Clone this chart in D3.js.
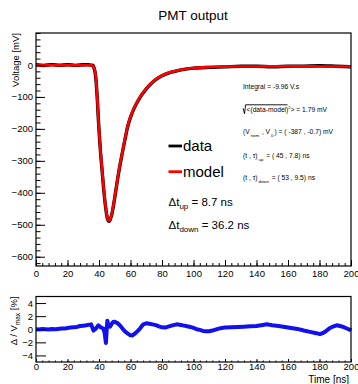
<!DOCTYPE html>
<html>
<head>
<meta charset="utf-8">
<script src="https://cdn.jsdelivr.net/npm/d3@7"></script>
<style>
  body { margin: 0; background: #fff; }
  svg text { font-family: "Liberation Sans", Arial, sans-serif; fill: #000; }
</style>
</head>
<body>
<div id="container"></div>
<script>
// pulse: time [ns] and voltage [mV]
let times = [0, 5, 10, 15, 20, 25, 30, 33, 35, 36, 36.5, 37, 37.5, 38, 38.5, 39, 39.5, 40, 40.5, 41, 42, 43, 44, 45, 46, 46.5, 47, 48, 49, 50, 51, 52, 53, 54, 55, 56, 57, 58, 60, 62, 64, 66, 68, 70, 73, 76, 80, 85, 90, 95, 100, 110, 120, 130, 140, 150, 160, 170, 180, 190, 200];
let modelVals = [-0.7, -0.7, -0.7, -0.7, -0.7, -0.7, -0.8, -0.9, -1, -2, -5, -10, -20, -40, -70, -110, -160, -200, -238, -272, -330, -388, -435, -470, -486, -487, -484, -468, -443, -413, -381, -349, -320, -294, -268, -243, -219, -195, -162, -137, -117, -100, -86, -74, -58, -45, -33, -23, -17, -12.5, -9.5, -6.5, -5.2, -4.8, -4.6, -4.5, -4.5, -4.5, -4.6, -4.7, -4.8];
let dataVals = [0.5, -1.5, 1, -1, 0.8, -1.2, 0.5, 1.2, -1, -0.5, -4, -12, -23, -43, -74, -113, -162, -203, -240, -275, -332, -390, -437, -472, -488, -489, -485, -470, -445, -415, -383, -351, -322, -296, -270, -245, -221, -197, -164, -139, -119, -102, -88, -75, -59, -46, -34, -24, -18, -13, -10, -7.5, -6, -4, -3.8, -5.5, -4, -3.5, -2.5, -3.8, -5.5];

// residual: time [ns] and delta / Vmax [%]
let resTimes = [0, 2, 4, 6, 8, 10, 12, 14, 16, 18, 20, 22, 24, 26, 28, 30, 32, 34, 35, 36.5, 38, 39.6, 41, 42.8, 43.6, 44.4, 44.8, 45.3, 45.9, 47, 48, 49, 50, 52, 54, 55.4, 57, 59.7, 61, 62.9, 64, 66, 68.1, 70, 72, 74, 76.6, 78, 80, 82, 84, 86, 89.3, 92, 94, 96, 98, 100, 102, 104, 106, 108, 110, 112, 114, 116, 118, 120, 124, 128, 132, 136, 140, 144, 146.5, 148, 150, 154, 158, 162, 166, 170, 174, 178, 180.3, 182, 184, 186.7, 188, 190.9, 193, 195, 197, 199.4, 200];
let resVals = [0, -0.05, 0.05, 0, -0.05, 0.05, 0, 0.05, 0.1, 0.1, 0.2, 0.25, 0.3, 0.35, 0.5, 0.55, 0.6, 0.7, 0.75, -0.2, 0.1, 0.6, 0.3, 0.1, -0.6, -2.1, -0.4, 1.3, 0.6, 0.4, 0.8, 1.1, 1.15, 0.9, 0.4, -0.05, -0.45, -0.9, -0.95, -0.65, -0.4, 0.1, 0.75, 0.9, 0.85, 0.75, 0.6, 0.45, 0.3, 0.25, 0.4, 0.55, 0.75, 0.65, 0.55, 0.45, 0.35, 0.2, 0.0, -0.1, -0.25, -0.3, -0.3, -0.2, -0.05, 0.1, 0.2, 0.25, 0.3, 0.35, 0.4, 0.45, 0.5, 0.65, 0.75, 0.7, 0.6, 0.5, 0.35, 0.2, 0.05, -0.2, -0.4, -0.6, -0.75, -0.6, -0.3, 0.2, 0.35, 0.6, 0.5, 0.35, 0.15, -0.1, -0.2];

let xTicks = [0, 20, 40, 60, 80, 100, 120, 140, 160, 180, 200];
let yTicks = [-600, -500, -400, -300, -200, -100, 0];
let resTicks = [-4, -2, 0, 2, 4];

let stats = [
  {main: "Integral = -9.96 V.s"},
  {sqrt: true},
  {parts: [["(V", 0], ["nom", 1], [" , V", 0], ["0", 1], [") = ( -387 , -0.7) mV", 0]]},
  {parts: [["(t , \u03c4)", 0], ["up", 1], [" = ( 45 , 7.8) ns", 0]]},
  {parts: [["(t , \u03c4)", 0], ["down", 1], [" = ( 53 , 9.5) ns", 0]]}
];

let w = 358;
let h = 384;
let fx0 = 36, fx1 = 351;
let top0 = 33, top1 = 266;
let bot0 = 296.5, bot1 = 362;

let svg = d3.select("#container")
  .append("svg")
  .attr("width", w)
  .attr("height", h)
  .style("background-color", "#fff");

let xScale = d3.scaleLinear().domain([0, 200]).range([fx0, fx1]);
let yScale = d3.scaleLinear().domain([-629, 100]).range([top1, top0]);
let rScale = d3.scaleLinear().domain([-5, 5]).range([bot1, bot0]);

// title
svg.append("text")
  .attr("x", 193).attr("y", 19.5)
  .attr("text-anchor", "middle")
  .attr("font-size", "13.5px")
  .text("PMT output");

// ---------- top panel ----------
let pulseModel = times.map((t, i) => [t, modelVals[i]]);
let pulseData = times.map((t, i) => [t, dataVals[i]]);

let line = d3.line()
  .x(d => xScale(d[0]))
  .y(d => yScale(d[1]))
  .curve(d3.curveMonotoneX);

svg.append("path")
  .datum(pulseData)
  .attr("fill", "none")
  .attr("stroke", "#000")
  .attr("stroke-width", 3.4)
  .attr("d", line);

svg.append("path")
  .datum(pulseModel)
  .attr("fill", "none")
  .attr("stroke", "#ff0000")
  .attr("stroke-width", 2.6)
  .attr("d", line);

function styleAxis(g) {
  g.select(".domain").remove();
  g.selectAll("line").attr("stroke", "#000");
  g.selectAll("text")
    .attr("font-size", "9.5px")
    .attr("font-family", "'Liberation Sans', Arial, sans-serif")
    .attr("fill", "#000");
}

// y axis top
svg.append("g")
  .attr("transform", "translate(" + fx0 + ",0)")
  .call(d3.axisLeft(yScale).tickValues(d3.range(-620, 101, 20)).tickSizeInner(-4.5).tickSizeOuter(0).tickFormat(""))
  .call(styleAxis);
svg.append("g")
  .attr("transform", "translate(" + fx0 + ",0)")
  .call(d3.axisLeft(yScale).tickValues(yTicks).tickSizeInner(-9).tickSizeOuter(0).tickPadding(3))
  .call(styleAxis);

// x axis top
svg.append("g")
  .attr("transform", "translate(0," + top1 + ")")
  .call(d3.axisBottom(xScale).tickValues(d3.range(0, 201, 4)).tickSizeInner(-3).tickSizeOuter(0).tickFormat(""))
  .call(styleAxis);
svg.append("g")
  .attr("transform", "translate(0," + top1 + ")")
  .call(d3.axisBottom(xScale).tickValues(xTicks).tickSizeInner(-6).tickSizeOuter(0).tickPadding(4))
  .call(styleAxis);

svg.append("rect")
  .attr("x", fx0).attr("y", top0)
  .attr("width", fx1 - fx0).attr("height", top1 - top0)
  .attr("fill", "none").attr("stroke", "#000").attr("stroke-width", 1.2);

svg.append("text")
  .attr("transform", "translate(19," + top0 + ") rotate(-90)")
  .attr("text-anchor", "end")
  .attr("font-size", "9.5px")
  .text("Voltage [mV]");

// legend
let legend = [["data", "#000", 146], ["model", "#ff0000", 171.7]];
legend.forEach(l => {
  svg.append("line")
    .attr("x1", 168.5).attr("x2", 182)
    .attr("y1", l[2]).attr("y2", l[2])
    .attr("stroke", l[1]).attr("stroke-width", 2.8);
  svg.append("text")
    .attr("x", 183).attr("y", l[2] + 5.3)
    .attr("font-size", "15px")
    .text(l[0]);
});

// delta t labels
let dts = [["up", " = 8.7 ns", 201.7], ["down", " = 36.2 ns", 225]];
dts.forEach(d => {
  let t = svg.append("text")
    .attr("x", 168.5).attr("y", d[2] + 4)
    .attr("font-size", "11.5px");
  t.append("tspan").text("\u0394t");
  t.append("tspan").attr("font-size", "8px").attr("dy", 3).text(d[0]);
  t.append("tspan").attr("dy", -3).text(d[1]);
});

// stats box text
let sy = [86.7, 110, 131.7, 155.5, 177.5];
stats.forEach((s, i) => {
  let y = sy[i] + 2.3;
  if (s.main) {
    svg.append("text").attr("x", 243).attr("y", y).attr("font-size", "6.7px").text(s.main);
  } else if (s.sqrt) {
    svg.append("path")
      .attr("d", "M243.2," + (y - 4) + " L244.5," + (y + 1.5) + " L245.6," + (y - 7.5) + " L287.5," + (y - 7.5))
      .attr("fill", "none").attr("stroke", "#000").attr("stroke-width", 0.9);
    let t = svg.append("text").attr("x", 246.5).attr("y", y).attr("font-size", "6.7px");
    t.append("tspan").text("<(data-model)");
    t.append("tspan").attr("font-size", "4px").attr("dy", -3).text("2");
    t.append("tspan").attr("dy", 3).text("> = 1.79 mV");
  } else {
    let t = svg.append("text").attr("x", 243).attr("y", y).attr("font-size", "6.7px");
    let shift = 0;
    s.parts.forEach(p => {
      if (p[1]) {
        t.append("tspan").attr("font-size", "4.3px").attr("dy", 3 - shift).attr("dx", 1).text(p[0]);
        shift = 3;
      } else {
        t.append("tspan").attr("dy", -shift).attr("dx", shift ? 1 : 0).text(p[0]);
        shift = 0;
      }
    });
  }
});

// ---------- bottom panel ----------
let resData = resTimes.map((t, i) => [t, resVals[i]]);

let rline = d3.line()
  .x(d => xScale(d[0]))
  .y(d => rScale(d[1]));

svg.append("path")
  .datum(resData)
  .attr("fill", "none")
  .attr("stroke", "#1010f0")
  .attr("stroke-width", 4)
  .attr("stroke-linejoin", "round")
  .attr("d", rline);

svg.append("g")
  .attr("transform", "translate(" + fx0 + ",0)")
  .call(d3.axisLeft(rScale).tickValues(resTicks).tickSizeInner(-10).tickSizeOuter(0).tickPadding(3))
  .call(styleAxis);

svg.append("g")
  .attr("transform", "translate(0," + bot1 + ")")
  .call(d3.axisBottom(xScale).tickValues(d3.range(0, 201, 4)).tickSizeInner(-1.5).tickSizeOuter(0).tickFormat(""))
  .call(styleAxis);
svg.append("g")
  .attr("transform", "translate(0," + bot1 + ")")
  .call(d3.axisBottom(xScale).tickValues(xTicks).tickSizeInner(-3).tickSizeOuter(0).tickPadding(1))
  .call(styleAxis);

svg.append("rect")
  .attr("x", fx0).attr("y", bot0)
  .attr("width", fx1 - fx0).attr("height", bot1 - bot0)
  .attr("fill", "none").attr("stroke", "#000").attr("stroke-width", 1.2);

let rl = svg.append("text")
  .attr("transform", "translate(17," + bot0 + ") rotate(-90)")
  .attr("text-anchor", "end")
  .attr("font-size", "9.5px");
rl.append("tspan").text("\u0394 / V");
rl.append("tspan").attr("font-size", "6.5px").attr("dy", 3).text("max");
rl.append("tspan").attr("dy", -3).text(" [%]");

svg.append("text")
  .attr("x", 349).attr("y", 382.5)
  .attr("text-anchor", "end")
  .attr("font-size", "10px")
  .text("Time [ns]");
</script>
</body>
</html>
